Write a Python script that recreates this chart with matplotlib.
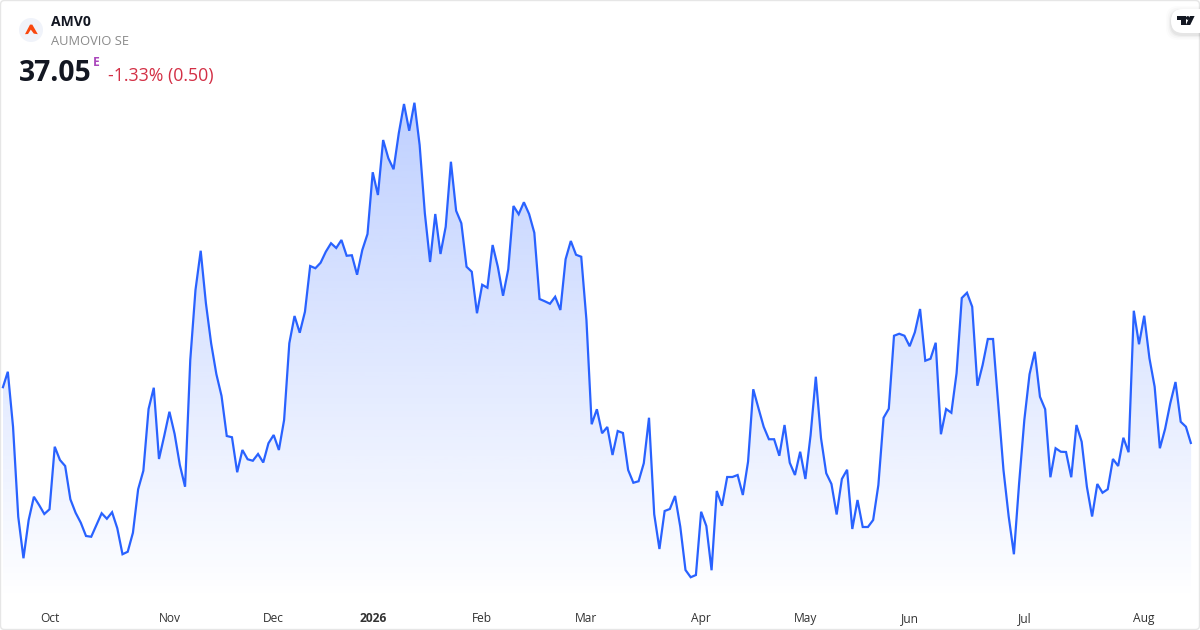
import numpy as np
import matplotlib
matplotlib.use("Agg")
import matplotlib.pyplot as plt
from matplotlib.colors import to_rgb
from matplotlib.patches import FancyBboxPatch, Circle, Polygon

ticker = "AMV0"
company = "AUMOVIO SE"
last_price = "37.05"
change_text = "-1.33% (0.50)"
session_flag = "E"

prices = [
    39.28, 39.94, 37.74, 34.14, 32.48, 34.01, 34.94, 34.61, 34.25, 34.44, 36.94, 36.41, 36.17, 34.84, 34.30,
    33.90, 33.37, 33.34, 33.81, 34.28, 34.06, 34.32, 33.68, 32.64, 32.74, 33.50, 35.24, 35.98, 38.45, 39.30,
    36.45, 37.37, 38.34, 37.45, 36.21, 35.34, 40.41, 43.21, 44.78, 42.68, 41.08, 39.85, 38.97, 37.37, 37.32,
    35.92, 36.81, 36.44, 36.38, 36.65, 36.31, 37.08, 37.41, 36.81, 38.01, 41.08, 42.17, 41.50,
    42.34, 44.17, 44.08, 44.30, 44.74, 45.08, 44.89, 45.21, 44.58, 44.60, 43.82, 44.81, 45.45, 47.92, 47.01,
    49.21, 48.48, 48.04, 49.48, 50.65, 49.58, 50.70, 49.01, 46.28, 44.33, 46.25, 44.65, 45.74, 48.34, 46.38,
    45.88, 44.14, 43.94, 42.28, 43.42, 43.30, 45.01, 44.14, 42.98, 44.04, 46.57, 46.24, 46.72, 46.25, 45.50,
    42.85, 42.76, 42.66, 42.94, 42.41, 44.44, 45.17, 44.62, 44.54, 42.01, 37.84, 38.44,
    37.48, 37.73, 36.61, 37.57, 37.49, 36.01, 35.50, 35.56, 36.28, 38.10, 34.24, 32.85, 34.37, 34.45, 34.97,
    33.74, 32.01, 31.72, 31.81, 34.34, 33.77, 32.00, 35.17, 34.58, 35.73, 35.73, 35.81, 35.01, 36.34, 39.24,
    38.48, 37.74, 37.24, 37.24, 36.58, 37.81, 36.30, 35.81, 36.74, 35.65, 37.41, 39.74, 37.28, 35.88, 35.45,
    34.23, 35.65, 36.02, 33.65, 34.81, 33.73, 33.73, 34.01, 35.41, 38.10, 38.46, 41.38, 41.46,
    41.38, 40.96, 41.52, 42.45, 40.38, 40.46, 41.10, 37.44, 38.45, 38.30, 39.88, 42.89, 43.10, 42.54, 39.38,
    40.21, 41.25, 41.25, 38.65, 36.01, 34.15, 32.64, 35.48, 38.01, 39.84, 40.74, 38.94, 38.44, 35.72, 36.88,
    36.74, 36.73, 35.72, 37.81, 37.14, 35.34, 34.15, 35.45, 35.10, 35.24, 36.45, 36.17, 37.30, 36.72, 42.38,
    41.04, 42.18, 40.48, 39.34, 36.88, 37.65, 38.68, 39.53, 37.94, 37.74, 37.05,
]
tick_labels = ["Oct", "Nov", "Dec", "2026", "Feb", "Mar", "Apr", "May", "Jun", "Jul", "Aug"]
tick_bars = [9, 32, 52, 71, 92, 112, 134, 154, 174, 196, 219]

LINE = "#2962FF"
FONT = ["Open Sans", "Noto Sans", "DejaVu Sans"]
W, H = 1200, 630
px = 0.72  # points per pixel at dpi 100

fig = plt.figure(figsize=(W / 100, H / 100), dpi=100, facecolor="white")
ax = fig.add_axes([0, 0, 1, 1], facecolor="none")
x = np.arange(len(prices))
for s in ax.spines.values():
    s.set_visible(False)

# gradient area below the line
peak = max(prices)
floor = 30.8
rgba = np.ones((256, 1, 4))
rgba[:, :, :3] = to_rgb(LINE)
rgba[:, 0, 3] = np.linspace(0.30, 0.0, 256)
im = ax.imshow(rgba, extent=[x[0], x[-1], floor, peak], origin="upper", aspect="auto", zorder=1,
               interpolation="bilinear")
band = ax.fill_between(x, prices, floor, facecolor="none", edgecolor="none")
im.set_clip_path(band.get_paths()[0], transform=ax.transData)
ax.set_xlim(-0.5, 229.7)
ax.set_ylim(29.61, 54.81)
ax.plot(x, prices, color=LINE, lw=1.6, zorder=3, solid_joinstyle="miter", solid_capstyle="butt")

# month labels are real ticks, pulled inside the full-bleed axes
ax.set_yticks([])
ax.set_xticks(tick_bars)
ax.set_xticklabels(tick_labels, fontsize=12 * px, color="#333333", family=FONT)
ax.tick_params(axis="x", length=0, pad=-3.6, direction="in")
for lab in ax.get_xticklabels():
    lab.set_verticalalignment("bottom")
    if lab.get_text() == "2026":
        lab.set_fontweight("bold")

# overlay in pixel coordinates for the widget chrome
ui = fig.add_axes([0, 0, 1, 1], facecolor="none", zorder=5)
ui.set_xlim(0, W)
ui.set_ylim(H, 0)
ui.axis("off")
ui.add_patch(FancyBboxPatch((0.5, 0.5), W - 1, H - 1, boxstyle="round,pad=0,rounding_size=4", fc="none",
                            ec="#e6e6e6", lw=1.0))
ui.add_patch(Circle((31, 30), 12, fc="#f0f3fa", ec="none"))
ui.add_patch(Polygon([(25, 34.2), (30, 24.6), (32.3, 24.6), (37.8, 34.2), (33.8, 33.6), (30.8, 29.6), (28, 34)],
                     fc="#f9480f", ec="none"))
ui.text(51, 21.6, ticker, fontsize=14 * px, fontweight="bold", color="#131722", family=FONT, va="center")
ui.text(51, 41.3, company, fontsize=12.9 * px, color="#8a8a8a", family=FONT, va="center")
ui.text(19, 73.5, last_price, fontsize=28.3 * px, fontweight="bold", color="#131722", family=FONT, va="center")
ui.text(93, 62, session_flag, fontsize=12 * px, fontweight="bold", color="#ab47bc", family=FONT, va="center")
ui.text(108, 75.6, change_text, fontsize=17.8 * px, color="#d32f45", family=FONT, va="center")

# TradingView badge
for grow, a in ((5, 0.012), (3.5, 0.02), (2, 0.03), (1, 0.04)):
    ui.add_patch(FancyBboxPatch((1171 - grow, 9 - grow + 2), 40 + 2 * grow, 24 + 2 * grow,
                                boxstyle="round,pad=0,rounding_size=12", fc="black", ec="none", alpha=a))
ui.add_patch(FancyBboxPatch((1171, 9), 40, 24, boxstyle="round,pad=0,rounding_size=12", fc="white", ec="none"))
ui.add_patch(Polygon([(1177, 16), (1185.5, 16), (1185.5, 25), (1181, 25), (1181, 19.8), (1177, 19.8)],
                     fc="#131722", ec="none"))
ui.add_patch(Circle((1187.8, 18), 1.9, fc="#131722", ec="none"))
ui.add_patch(Polygon([(1190, 16), (1194.6, 16), (1190.2, 25), (1185.8, 25)], fc="#131722", ec="none"))

fig.savefig("out.png", dpi=100, facecolor="white")
